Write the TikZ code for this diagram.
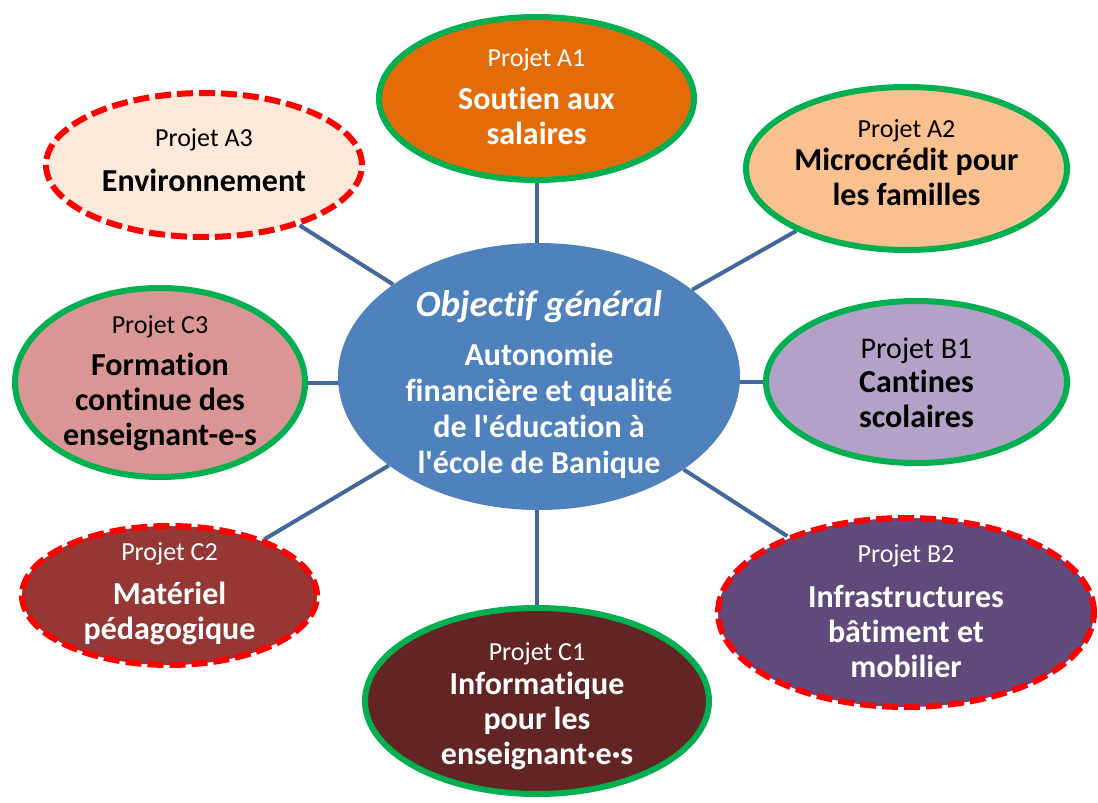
\documentclass[tikz,border=0pt]{standalone}
\usepackage{fontspec}
\setmainfont{Carlito}[Ligatures={NoCommon}]
\usetikzlibrary{shapes.geometric,backgrounds}
\definecolor{ringgreen}{RGB}{0,176,80}
\definecolor{ringred}{RGB}{255,0,0}
\definecolor{linkblue}{RGB}{66,104,156}
\definecolor{fA1}{RGB}{227,108,9}
\definecolor{fA2}{RGB}{250,192,144}
\definecolor{fA3}{RGB}{253,233,217}
\definecolor{fC3}{RGB}{217,150,148}
\definecolor{fCenter}{RGB}{79,129,189}
\definecolor{fB1}{RGB}{179,162,199}
\definecolor{fC2}{RGB}{149,55,53}
\definecolor{fB2}{RGB}{96,74,123}
\definecolor{fC1}{RGB}{99,37,35}
\newcommand{\pj}[1]{{\fontsize{26}{30}\selectfont\mdseries #1}}
\begin{document}
\begin{tikzpicture}[x=1pt,y=-1pt,
  ell/.style={ellipse, inner sep=0pt},
  solidring/.style={ell, draw=ringgreen, line width=6pt},
  dashring/.style={ell, draw=ringred, line width=6pt, dash pattern=on 16pt off 6pt},
  link/.style={draw=linkblue, line width=4pt},
  lbl/.style={align=center, inner sep=0pt, font=\fontsize{32}{35}\selectfont\bfseries}
]
\useasboundingbox (0,0) rectangle (1098,803);

\node[ell, fill=fCenter, minimum width=402pt, minimum height=267pt] (c) at (539,376.5) {};
\node[solidring, fill=fA1, minimum width=315pt, minimum height=163pt] (a1) at (536.5,98.5) {};
\node[solidring, fill=fA2, minimum width=321pt, minimum height=163pt] (a2) at (906.5,168.5) {};
\node[dashring, fill=fA3, minimum width=316pt, minimum height=144pt] (a3) at (204,165) {};
\node[solidring, fill=fC3, minimum width=290pt, minimum height=189pt] (c3) at (160,382.5) {};
\node[solidring, fill=fB1, minimum width=301pt, minimum height=162pt] (b1) at (916.5,382) {};
\node[dashring, fill=fC2, minimum width=295pt, minimum height=139pt] (c2) at (169.5,595.5) {};
\node[dashring, fill=fB2, minimum width=376pt, minimum height=189pt] (b2) at (906,612.5) {};
\node[solidring, fill=fC1, minimum width=344pt, minimum height=186pt] (c1) at (537,701) {};

\begin{pgfonlayer}{background}
  \draw[link] (a1) -- (a1 |- c);
  \draw[link] (c1) -- (c1 |- c);
  \draw[link] (c3) -- (c3 -| c);
  \draw[link] (b1) -- (b1 -| c);
  \draw[link] (c) -- (a2);
  \draw[link] (c) -- (a3);
  \draw[link] (c) -- (c2);
  \draw[link] (c) -- (b2);
\end{pgfonlayer}

\node[lbl, text=white] (ta1) at (536.5,97) {\pj{Projet A1}\\[8pt]Soutien aux\\salaires};
\node[lbl, text=black] (ta2) at (906.5,163) {\pj{Projet A2}\\[-2pt]Microcrédit pour\\les familles};
\node[lbl, text=black] (ta3) at (204,160) {\pj{Projet A3}\\[10pt]Environnement};
\node[lbl, text=black] (tc3) at (160,383) {\pj{Projet C3}\\[7pt]Formation\\continue des\\enseignant-e-s};
\node[lbl, text=black] (tb1) at (916.5,383) {{\fontsize{30}{34}\selectfont\mdseries Projet B1}\\[-1pt]Cantines\\scolaires};
\node[lbl, text=white] (tc2) at (169.5,594) {\pj{Projet C2}\\[9pt]Matériel\\pédagogique};
\node[lbl, text=white] (tb2) at (906,611) {\pj{Projet B2}\\[10pt]Infrastructures\\bâtiment et\\mobilier};
\node[lbl, text=white] (tc1) at (537,706) {\pj{Projet C1}\\[-1pt]Informatique\\pour les\\enseignant·e·s};
\node[lbl, text=white, font=\fontsize{32}{36}\selectfont\bfseries] (tc) at (539,385) {{\fontsize{37}{42}\selectfont\itshape Objectif général}\\[13pt]Autonomie\\financière et qualité\\de l\textquotesingle éducation à\\l\textquotesingle école de Banique};
\end{tikzpicture}
\end{document}
